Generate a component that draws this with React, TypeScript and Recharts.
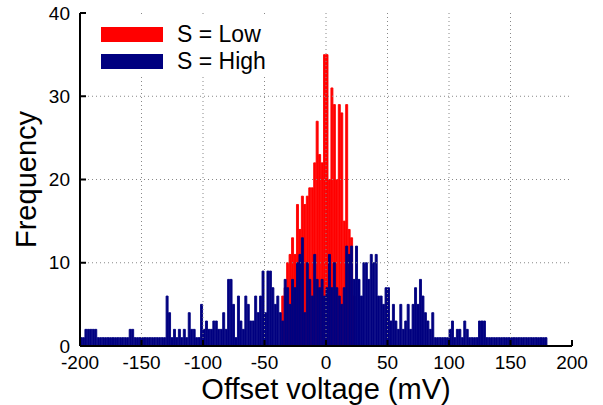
import React from 'react';
import { ComposedChart, Bar, XAxis, YAxis, ReferenceLine, Legend, Label } from 'recharts';

const FONT = '"Liberation Sans", Arial, Helvetica, sans-serif';

// Histogram bins: left edge of each 2 mV bin, -200 .. 198
const binStarts: number[] = Array.from({ length: 200 }, (_, i) => -200 + 2 * i);

// S = Low counts per bin (rows of 10 bins = 20 mV)
const lowCounts: number[] = [
  0, 0, 0, 0, 0, 0, 0, 0, 0, 0, // -200
  0, 0, 0, 0, 0, 0, 0, 0, 0, 0, // -180
  0, 0, 0, 0, 0, 0, 0, 0, 0, 0, // -160
  0, 0, 0, 0, 0, 0, 0, 0, 0, 0, // -140
  0, 0, 0, 0, 0, 0, 0, 0, 0, 0, // -120
  0, 0, 0, 0, 0, 0, 0, 0, 0, 0, // -100
  0, 0, 0, 0, 0, 0, 0, 0, 0, 0, // -80
  0, 0, 0, 0, 0, 0, 0, 0, 0, 0, // -60
  0, 0, 6, 7, 10, 11, 13, 11, 17, 14, // -40
  18, 17, 18, 19, 19, 22, 27, 23, 22, 35, // -20
  35, 20, 31, 29, 20, 29, 28, 15, 29, 14, // 0
  13, 6, 0, 0, 0, 0, 0, 0, 0, 0, // 20
  0, 0, 0, 0, 0, 0, 0, 0, 0, 0, // 40
  0, 0, 0, 0, 0, 0, 0, 0, 0, 0, // 60
  0, 0, 0, 0, 0, 0, 0, 0, 0, 0, // 80
  0, 0, 0, 0, 0, 0, 0, 0, 0, 0, // 100
  0, 0, 0, 0, 0, 0, 0, 0, 0, 0, // 120
  0, 0, 0, 0, 0, 0, 0, 0, 0, 0, // 140
  0, 0, 0, 0, 0, 0, 0, 0, 0, 0, // 160
  0, 0, 0, 0, 0, 0, 0, 0, 0, 0, // 180
];

// S = High counts per bin
const highCounts: number[] = [
  1, 1, 2, 2, 2, 2, 2, 1, 1, 1, // -200
  1, 1, 1, 1, 1, 1, 1, 1, 1, 1, // -180
  2, 2, 1, 1, 1, 1, 1, 1, 1, 1, // -160
  1, 1, 1, 1, 1, 6, 4, 1, 2, 1, // -140
  2, 1, 2, 1, 4, 2, 2, 1, 1, 5, // -120
  2, 3, 2, 2, 3, 3, 2, 2, 4, 2, // -100
  8, 8, 5, 1, 6, 3, 2, 6, 5, 3, // -80
  3, 6, 4, 6, 9, 4, 9, 9, 7, 5, // -60
  6, 4, 3, 8, 7, 5, 8, 7, 10, 11, // -40
  13, 4, 10, 8, 6, 11, 8, 7, 8, 6, // -20
  7, 11, 7, 10, 7, 6, 5, 7, 12, 11, // 0
  12, 8, 12, 8, 6, 10, 10, 8, 11, 10, // 20
  11, 6, 6, 5, 7, 7, 3, 5, 3, 2, // 40
  5, 2, 3, 5, 2, 5, 7, 5, 8, 6, // 60
  4, 3, 2, 4, 1, 1, 1, 1, 1, 1, // 80
  2, 3, 1, 2, 2, 1, 3, 2, 1, 1, // 100
  1, 1, 3, 3, 3, 1, 1, 1, 1, 1, // 120
  1, 1, 1, 1, 1, 1, 1, 1, 1, 1, // 140
  1, 1, 1, 1, 1, 1, 1, 1, 1, 1, // 160
  0, 0, 0, 0, 0, 0, 0, 0, 0, 0, // 180
];

const xTicks: number[] = [-200, -150, -100, -50, 0, 50, 100, 150, 200];
const yTicks: number[] = [0, 10, 20, 30, 40];
const xGrid: number[] = [-150, -100, -50, 0, 50, 100, 150];
const yGrid: number[] = [10, 20, 30];

const seriesNames = { low: 'S = Low', high: 'S = High' };
const colors = { low: '#ff0000', high: '#000080' };

const data = binStarts.map((b, i) => ({ bin: b, low: lowCounts[i], high: highCounts[i] }));

const axisLine = { stroke: '#000', strokeWidth: 2 };
const tickLine = { stroke: '#000', strokeWidth: 2 };
const tickStyle = { fill: '#000', fontSize: 19, fontFamily: FONT };

const XTitle = (props: any) => {
  const vb = props.viewBox || { x: 80, y: 346, width: 492, height: 59 };
  const cx = vb.x + vb.width / 2;
  return (
    <text x={cx} y={vb.y + 53} textAnchor="middle" fontSize={29} fontFamily={FONT} fill="#000">
      Offset voltage (mV)
    </text>
  );
};

const YTitle = (props: any) => {
  const vb = props.viewBox || { x: 0, y: 13, width: 80, height: 333 };
  const cx = vb.x + 36;
  const cy = vb.y + vb.height / 2;
  return (
    <text
      transform={`translate(${cx},${cy}) rotate(-90)`}
      textAnchor="middle"
      fontSize={29}
      fontFamily={FONT}
      fill="#000"
    >
      Frequency
    </text>
  );
};

const LegendBox = () => {
  const rows = [
    { name: seriesNames.low, color: colors.low },
    { name: seriesNames.high, color: colors.high },
  ];
  return (
    <div style={{ position: 'relative', width: 205, height: 60, background: '#fff', fontFamily: FONT, fontSize: 23, color: '#000' }}>
      {rows.map((r, i) => (
        <React.Fragment key={r.name}>
          <div style={{ position: 'absolute', left: 19, top: 12 + i * 27, width: 62, height: 15, background: r.color }} />
          <div style={{ position: 'absolute', left: 95, top: 6 + i * 27, lineHeight: '27px', whiteSpace: 'nowrap' }}>{r.name}</div>
        </React.Fragment>
      ))}
    </div>
  );
};

export default function App() {
  return (
    <div style={{ position: 'absolute', left: 0, top: 0, background: '#fff' }}>
      <ComposedChart
        width={603}
        height={405}
        data={data}
        margin={{ top: 13, right: 31, bottom: 0, left: 0 }}
        barCategoryGap={0}
        barGap={0}
      >
        <XAxis xAxisId="catLow" dataKey="bin" type="category" hide />
        <XAxis xAxisId="catHigh" dataKey="bin" type="category" hide />
        <XAxis
          xAxisId="bottom"
          dataKey="bin"
          type="number"
          domain={[-200, 200]}
          ticks={xTicks}
          allowDataOverflow
          height={59}
          tickSize={-6}
          tickMargin={16}
          axisLine={axisLine}
          tickLine={tickLine}
          tick={tickStyle}
          interval={0}
        >
          <Label content={XTitle} />
        </XAxis>
        <XAxis
          xAxisId="top"
          orientation="top"
          dataKey="bin"
          type="number"
          domain={[-200, 200]}
          ticks={xTicks}
          allowDataOverflow
          height={0}
          tickSize={-6}
          axisLine={axisLine}
          tickLine={tickLine}
          tickFormatter={() => ''}
          interval={0}
        />
        <YAxis
          yAxisId="left"
          type="number"
          domain={[0, 40]}
          ticks={yTicks}
          width={80}
          tickSize={-6}
          tickMargin={16}
          axisLine={axisLine}
          tickLine={tickLine}
          tick={tickStyle}
          interval={0}
        >
          <Label content={YTitle} />
        </YAxis>
        <YAxis
          yAxisId="right"
          orientation="right"
          type="number"
          domain={[0, 40]}
          ticks={yTicks}
          width={0}
          tickSize={-6}
          axisLine={axisLine}
          tickLine={tickLine}
          tickFormatter={() => ''}
          interval={0}
        />
        <Bar xAxisId="catLow" yAxisId="left" dataKey="low" name={seriesNames.low} fill={colors.low} stroke={colors.low} strokeWidth={0.9} isAnimationActive={false} />
        <Bar xAxisId="catHigh" yAxisId="left" dataKey="high" name={seriesNames.high} fill={colors.high} stroke={colors.high} strokeWidth={0.9} isAnimationActive={false} />
        {xGrid.map((v) => (
          <ReferenceLine key={'x' + v} xAxisId="bottom" yAxisId="left" x={v} stroke="#888" strokeDasharray="1 3" strokeWidth={1} />
        ))}
        {yGrid.map((v) => (
          <ReferenceLine key={'y' + v} xAxisId="bottom" yAxisId="left" y={v} stroke="#888" strokeDasharray="1 3" strokeWidth={1} />
        ))}
        <Legend
          layout="vertical"
          align="center"
          verticalAlign="middle"
          content={() => <LegendBox />}
          wrapperStyle={{ left: 82, top: 15, width: 205, height: 60 }}
        />
      </ComposedChart>
    </div>
  );
}
